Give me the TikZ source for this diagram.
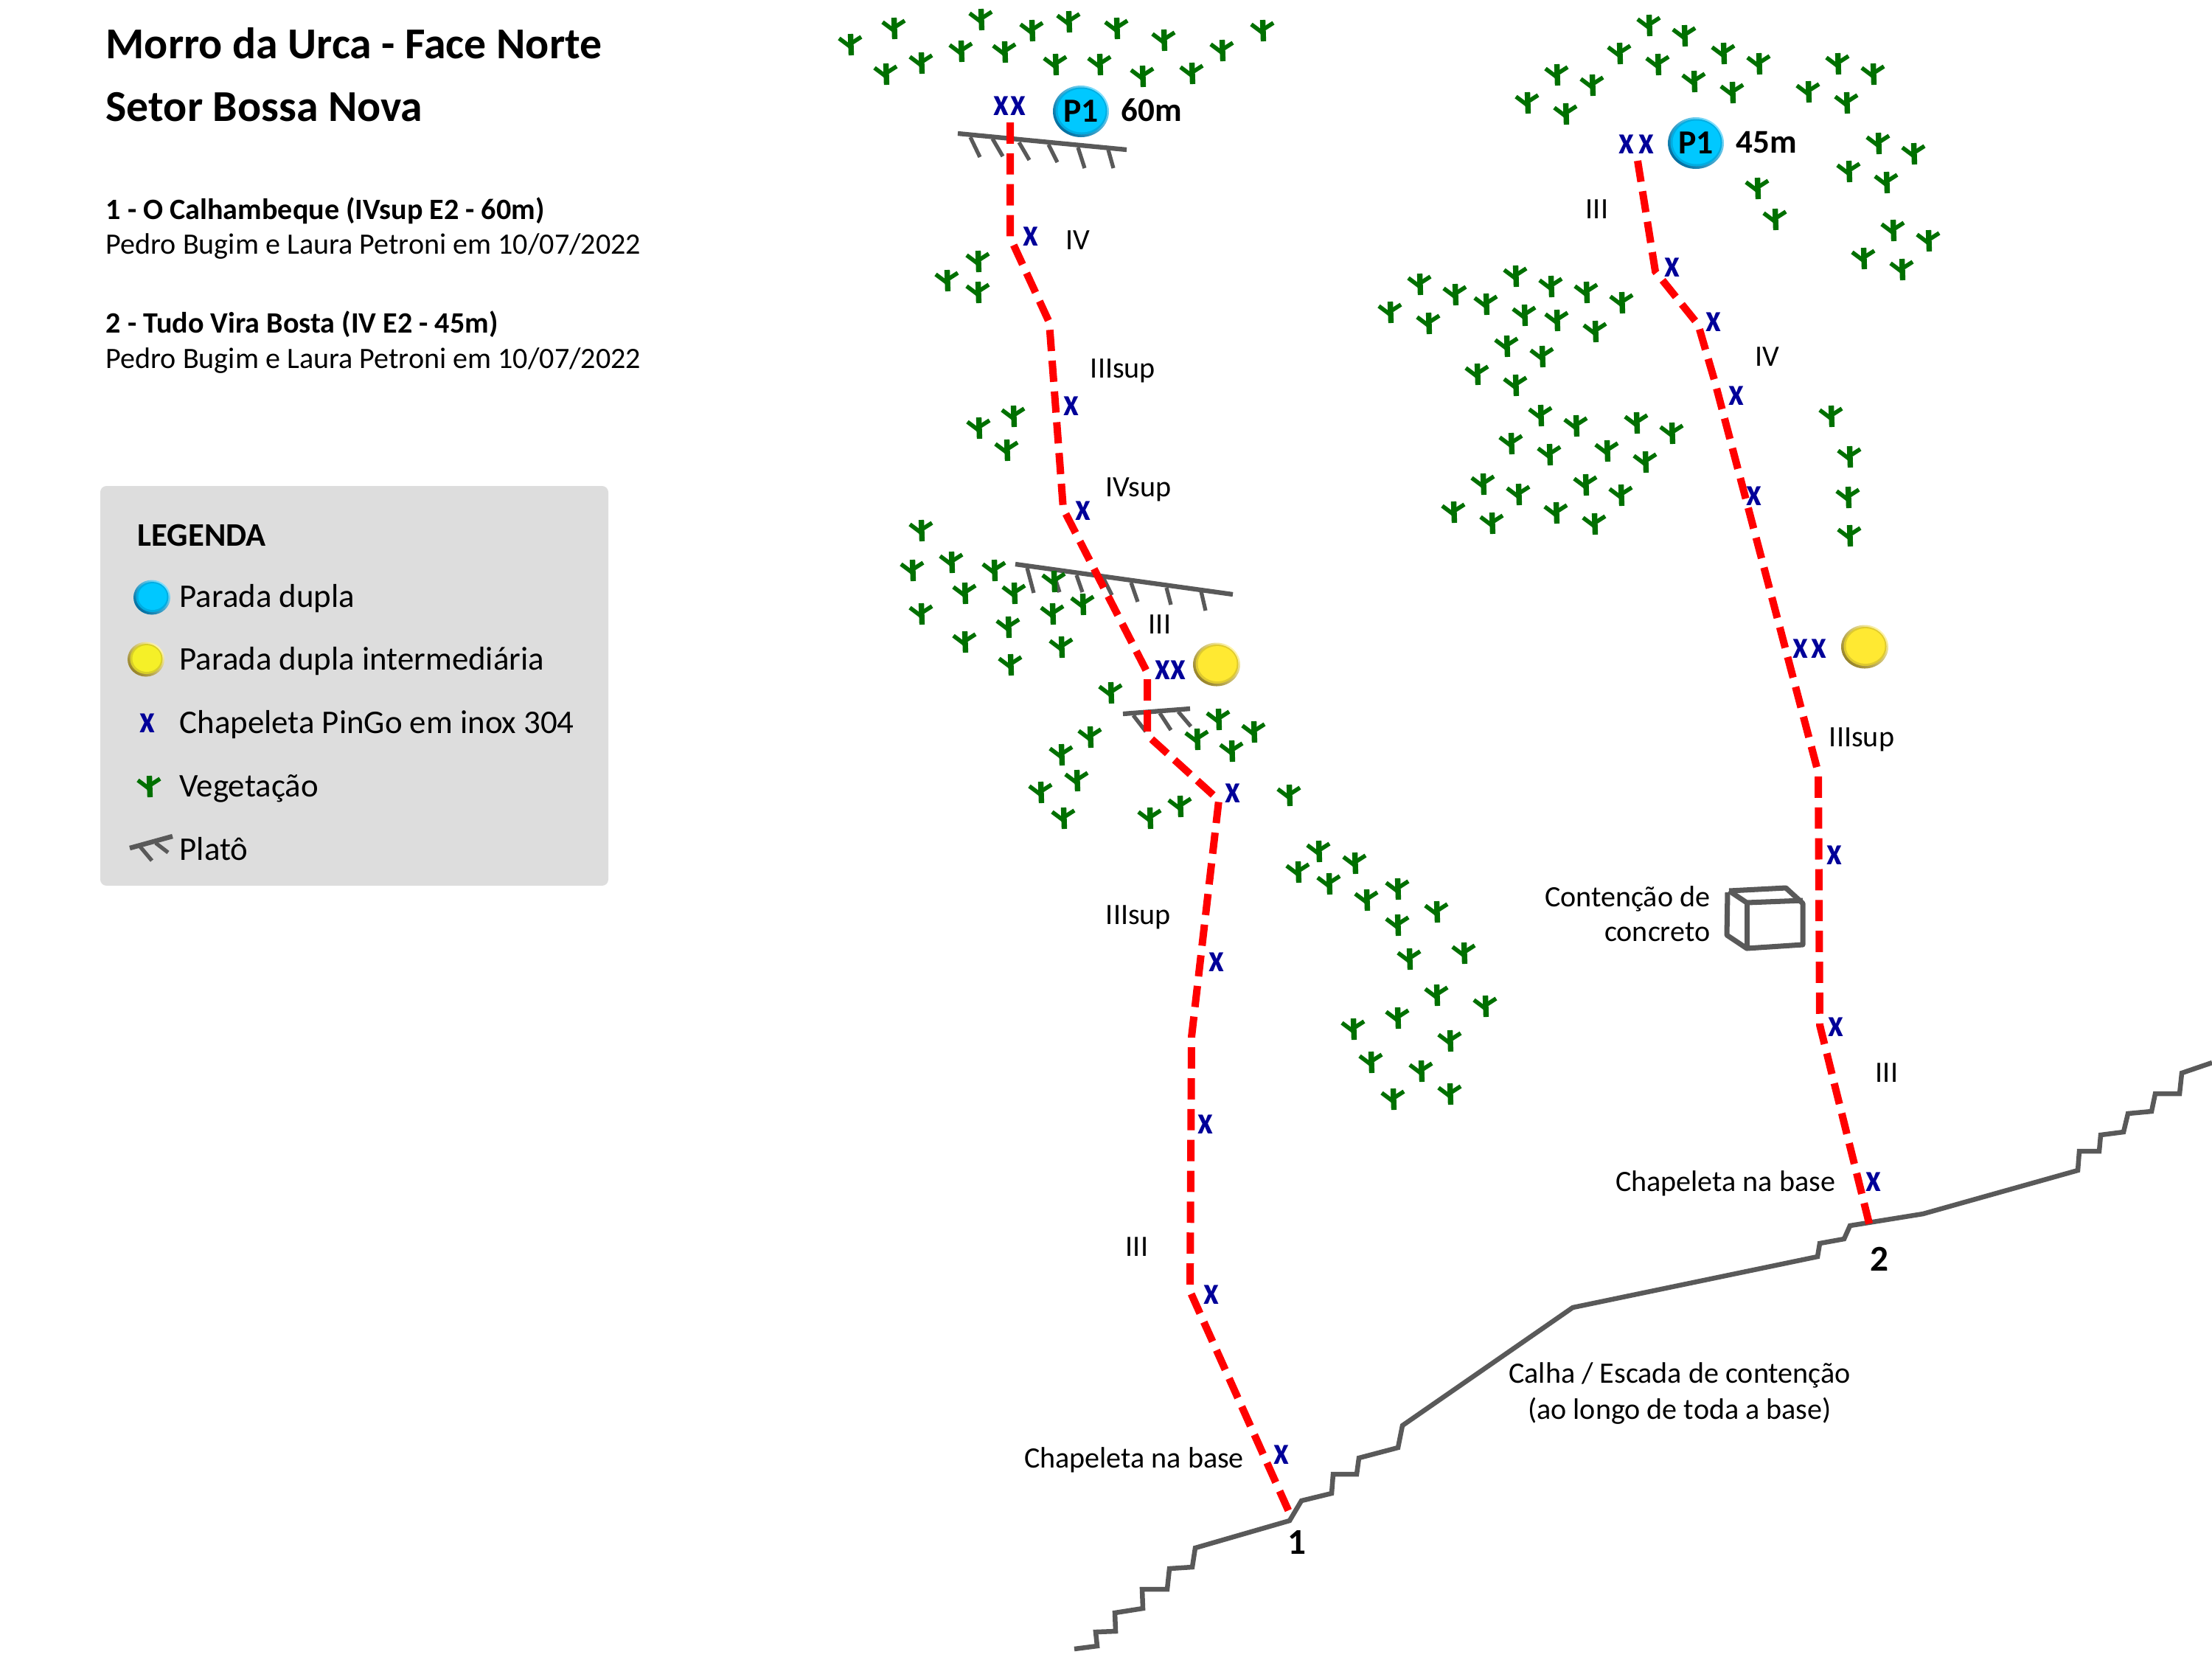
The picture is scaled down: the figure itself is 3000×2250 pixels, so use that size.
\documentclass[tikz,border=0pt]{standalone}
\usepackage{fontspec}
\setmainfont{Carlito}
\definecolor{capblue}{RGB}{0,200,255}
\definecolor{capbluedk}{RGB}{0,110,160}
\definecolor{capbluelt}{RGB}{130,225,255}
\definecolor{capyel}{RGB}{255,233,50}
\definecolor{capyeldk}{RGB}{150,130,40}
\definecolor{capyellt}{RGB}{255,245,170}
\definecolor{legyel}{RGB}{245,240,40}
\definecolor{veggreen}{RGB}{0,112,0}
\definecolor{rockgray}{RGB}{89,89,89}
\definecolor{boltblue}{RGB}{0,0,153}
\newcommand{\boltx}{\scalebox{0.86}[1]{x}}
% centre x, centre y, radius x, radius y, main, dark, light
\newcommand{\capstone}[7]{%
  \shade[bottom color=#6,middle color=#5,top color=#7,shading angle=-45] (#1,#2) ellipse [x radius=#3,y radius=#4];
  \fill[#5!70!#6] (#1+0.5,#2-0.5) ellipse [x radius=#3-3,y radius=#4-3];
  \fill[#5] (#1+1,#2-1) ellipse [x radius=#3-5.5,y radius=#4-5.5];
}
\tikzset{
  veg/.pic={
    \draw[veggreen,line width=2.1pt] (0.5,0) -- (-0.5,-29);
    \draw[veggreen,line width=1.6pt] (-16,-23) -- (0,-11);
    \draw[veggreen,line width=1.6pt] (14,-25) -- (0,-16);
  },
  route/.style={red,line width=2.85pt,dash pattern=on 8.2pt off 3.7pt},
  rock/.style={rockgray,line width=1.85pt},
  plato/.style={rockgray,line width=1.8pt},
  tick/.style={rockgray,line width=1.5pt},
  bolt/.style={boltblue,font=\fontsize{15}{17}\bfseries\selectfont,inner sep=0pt},
  lab/.style={font=\fontsize{11.4}{13}\selectfont,inner sep=0pt},
  legtxt/.style={font=\fontsize{12.75}{15}\selectfont,inner sep=0pt,anchor=west},
  head/.style={font=\fontsize{11.4}{13}\selectfont,inner sep=0pt,anchor=west},
  headb/.style={font=\fontsize{11.4}{13}\bfseries\selectfont,inner sep=0pt,anchor=west},
  bigt/.style={font=\fontsize{17}{20}\bfseries\selectfont,inner sep=0pt,anchor=west},
  num/.style={font=\fontsize{14}{16}\bfseries\selectfont,inner sep=0pt},
  captext/.style={inner sep=0pt,font=\fontsize{13}{15}\bfseries\selectfont},
}
\begin{document}
\begin{tikzpicture}[x=0.01cm,y=-0.01cm]
\useasboundingbox (0,0) rectangle (3000,2250);
% ground line
\draw[rock,line join=miter] (1457,2236) -- (1488,2232) -- (1486,2213) -- (1513,2212) -- (1512,2187) -- (1550,2181) -- (1549,2155) -- (1583,2155) -- (1586,2127) -- (1617,2125) -- (1621,2099) -- (1749,2062) -- (1765,2035) -- (1806,2025) -- (1808,1999) -- (1840,1999) -- (1843,1977) -- (1896,1963) -- (1902,1933) -- (2133,1773) -- (2465,1704) -- (2468,1686) -- (2501,1680) -- (2509,1662) -- (2608,1646) -- (2818,1587) -- (2820,1561) -- (2847,1561) -- (2849,1539) -- (2880,1535) -- (2886,1510) -- (2918,1507) -- (2923,1483) -- (2956,1483) -- (2959,1455) -- (3000,1441);
% plateaus
\draw[plato] (1299,181) -- (1528,203);
\foreach \a/\b/\c/\d in {1316/186/1329/213,1346/188/1360/212,1382/193/1396/217,1422/196/1434/220,1462/200/1471/228,1503/203/1510/228}
  \draw[tick] (\a,\b) -- (\c,\d);
\draw[plato] (1377,765) -- (1672,806);
\foreach \a/\b/\c/\d in {1393/770/1402/804,1428/775/1437/803,1460/780/1468/803,1497/785/1508/807,1534/790/1543/816,1582/797/1588/820,1629/802/1635/828}
  \draw[tick] (\a,\b) -- (\c,\d);
\draw[plato] (1523,968) -- (1614,961);
\foreach \a/\b/\c/\d in {1537/970/1554/992,1573/967/1588/990,1598/965/1615/985}
  \draw[tick] (\a,\b) -- (\c,\d);
% concrete box
\draw[rock,line width=2pt,line join=round] (2345,1208) -- (2422,1204) -- (2445,1225) -- (2445,1281) -- (2369,1286) -- (2342,1268) -- (2343,1210);
\draw[rock,line width=2pt,line join=round] (2345,1208) -- (2369,1224) -- (2445,1221);
\draw[rock,line width=2pt] (2369,1224) -- (2369,1286);
% vegetation
\foreach \x/\y in {
 1154/75,1213/53,1331/41,1400/56,1450/44,1515/53,1579/69,1713/56,1658/83,1304/84,1363/85,1250/100,1202/115,1432/102,1492/102,1550/118,1617/114,1327/369,1285/395,1327/411,
 1375/579,1328/595,1366/625,
 1250/734,1238/788,1291/777,1349/788,1309/819,1376/819,1430/803,1469/834,1428/847,1250/847,1368/865,1309/885,1440/892,1371/916,1507/954,1479/1014,1440/1038,1653/990,1624/1017,1701/1007,1671/1033,1461/1073,1412/1089,1443/1124,1560/1124,1601/1108,1749/1093,
 1789/1169,1761/1197,1838/1185,1803/1213,1854/1235,1896/1220,1949/1251,1896/1269,1912/1315,1986/1307,1949/1364,2015/1379,1896/1395,1836/1410,1967/1426,1860/1455,1928/1467,1890/1505,1967/1498,
 2237/49,2285/63,2197/87,2249/102,2338/87,2386/101,2112/116,2160/130,2298/125,2350/140,2072/154,2124/169,2493/101,2541/115,2453/139,2505/154,2548/209,2596/223,2508/247,2559/262,2384/270,2408/312,2568/327,2616/341,2528/365,2580/380,
 1926/400,1974/414,2056/389,2104/403,2152/411,2200/425,2016/427,1886/438,1938/453,2068/442,2112/449,2164/464,2044/484,2092/498,2004/522,2056/537,2090/578,2138/592,2220/588,2268/602,2050/616,2102/631,2180/626,2232/641,2012/671,2060/685,2151/672,2199/686,1972/709,2024/724,2111/710,2163/725,
 2484/579,2509/634,2507/689,2509/741}
  \pic at (\x,\y) {veg};
% routes
\draw[route] (1370,166) -- (1370,322) -- (1423,437) -- (1442,690) -- (1556,912) -- (1556,997) -- (1653,1085) -- (1616,1406) -- (1614,1751) -- (1749,2052);
\draw[route] (2221,218) -- (2245,368) -- (2303,440) -- (2325,515) -- (2466,1048) -- (2468,1390) -- (2537,1667);
% bolts
\foreach \n/\x/\y in {a/1358/144,b/1381/144,c/1398/321,d/1453/551,e/1469/693,f/1577/909,g/1598/909,h/1672/1076,i/1650/1305,j/1635/1525,k/1643/1756,l/1738/1973,m/2206/196,n/2233/196,o/2268/363,p/2324/437,q/2355/537,r/2379/673,s/2442/880,t/2467/880,u/2488/1160,v/2490/1393,w/2541/1603}
  \node[bolt] (bolt\n) at (\x,\y) {\boltx};
% caps
\capstone{1466}{151}{38}{35}{capblue}{capbluedk}{capbluelt}
\node[captext] (stopa) at (1466,151) {P1};
\capstone{2300}{194}{38}{35}{capblue}{capbluedk}{capbluelt}
\node[captext] (stopb) at (2300,194) {P1};
\capstone{1650}{901}{32}{29.5}{capyel}{capyeldk}{capyellt}
\capstone{2529}{877}{32}{29.5}{capyel}{capyeldk}{capyellt}
\node[font=\fontsize{12.8}{15}\bfseries\selectfont,inner sep=0pt] (lenA) at (1562,149) {60m};
\node[font=\fontsize{12.8}{15}\bfseries\selectfont,inner sep=0pt] (lenB) at (2396,193) {45m};
% grades
\node[lab] (g1) at (1462,326) {IV};
\node[lab] (g2) at (1523,503) {IIIsup};
\node[lab] (g3) at (1544,664) {IVsup};
\node[lab] (g4) at (1573,847) {III};
\node[lab] (g5) at (1544,1244) {IIIsup};
\node[lab] (g6) at (1542,1691) {III};
\node[lab] (g7) at (1538,1980) {Chapeleta na base};
\node[num] (n1) at (1759,2091) {1};
\node[lab] (g8) at (2166,284) {III};
\node[lab] (g9) at (2397,484) {IV};
\node[lab] (g10) at (2525,1003) {IIIsup};
\node[lab,anchor=east] (g11) at (2320,1219) {Contenção de};
\node[lab,anchor=east] (g12) at (2320,1264) {concreto};
\node[lab] (g13) at (2559,1455) {III};
\node[lab] (g14) at (2340,1605) {Chapeleta na base};
\node[num] (n2) at (2549,1707) {2};
\node[lab] (g15) at (2278,1865) {Calha / Escada de contenção};
\node[lab] (g16) at (2278,1913) {(ao longo de toda a base)};
% header
\node[bigt] (t1) at (143,59) {Morro da Urca - Face Norte};
\node[bigt] (t2) at (143,145) {Setor Bossa Nova};
\node[headb] (h1) at (143,286) {1 - O Calhambeque (IVsup E2 - 60m)};
\node[head] (h2) at (143,334) {Pedro Bugim e Laura Petroni em 10/07/2022};
\node[headb] (h3) at (143,440) {2 - Tudo Vira Bosta (IV E2 - 45m)};
\node[head] (h4) at (143,489) {Pedro Bugim e Laura Petroni em 10/07/2022};
% legend
\fill[fill={rgb,255:red,221;green,221;blue,221},rounded corners=2.4pt] (136,659) rectangle (825,1201);
\node[font=\fontsize{12.7}{15}\bfseries\selectfont,inner sep=0pt,anchor=west] (legT) at (186,726) {LEGENDA};
\capstone{206}{810}{25}{23.5}{capblue}{capbluedk}{capbluelt}
\capstone{198}{894}{25}{23.5}{legyel}{capyeldk}{capyellt}
\node[bolt] (leg3) at (200,981) {\boltx};
\pic at (203,1081) {veg};
\draw[rock] (176,1150) -- (234,1134);
\draw[tick] (190,1148) -- (206,1167);
\draw[tick] (211,1143) -- (228,1156);
\node[legtxt] (lt1) at (243,812) {Parada dupla};
\node[legtxt] (lt2) at (243,897) {Parada dupla intermediária};
\node[legtxt] (lt3) at (243,983) {Chapeleta PinGo em inox 304};
\node[legtxt] (lt4) at (243,1069) {Vegetação};
\node[legtxt] (lt5) at (243,1151) {Platô};
\end{tikzpicture}
\end{document}
